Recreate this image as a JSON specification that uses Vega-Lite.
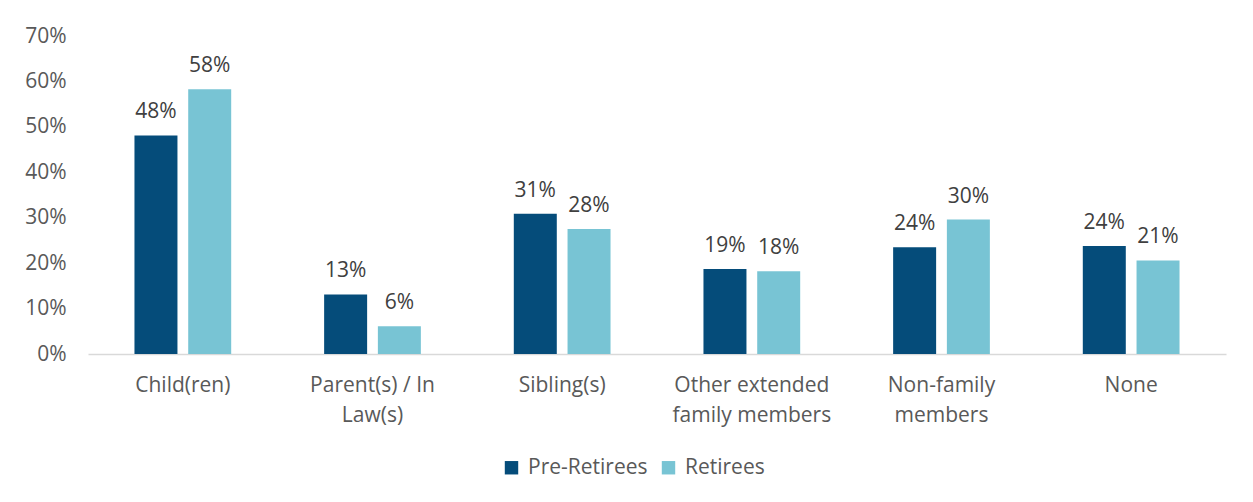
{
  "$schema": "https://vega.github.io/schema/vega-lite/v6.json",
  "width": 1138,
  "height": 318,
  "autosize": "none",
  "padding": {"left": 88, "top": 36, "right": 27, "bottom": 148},
  "background": "white",
  "config": {
    "view": {"stroke": null},
    "font": "Open Sans",
    "axis": {"labelFont": "Open Sans", "labelColor": "#595959", "labelFontSize": 21, "title": null},
    "legend": {"labelFont": "Open Sans", "labelColor": "#595959", "labelFontSize": 21}
  },
  "data": {
    "values": [
      {"category": "Child(ren)", "group": "Pre-Retirees", "value": 0.481},
      {"category": "Child(ren)", "group": "Retirees", "value": 0.583},
      {"category": "Parent(s) / In Law(s)", "group": "Pre-Retirees", "value": 0.131},
      {"category": "Parent(s) / In Law(s)", "group": "Retirees", "value": 0.061},
      {"category": "Sibling(s)", "group": "Pre-Retirees", "value": 0.309},
      {"category": "Sibling(s)", "group": "Retirees", "value": 0.275},
      {"category": "Other extended family members", "group": "Pre-Retirees", "value": 0.187},
      {"category": "Other extended family members", "group": "Retirees", "value": 0.182},
      {"category": "Non-family members", "group": "Pre-Retirees", "value": 0.235},
      {"category": "Non-family members", "group": "Retirees", "value": 0.296},
      {"category": "None", "group": "Pre-Retirees", "value": 0.238},
      {"category": "None", "group": "Retirees", "value": 0.206}
    ]
  },
  "encoding": {
    "x": {
      "field": "category",
      "type": "nominal",
      "sort": null,
      "scale": {"paddingInner": 0.49, "paddingOuter": 0.245},
      "axis": {
        "labelAngle": 0,
        "domainColor": "#d9d9d9",
        "domainWidth": 1.5,
        "ticks": false,
        "labelPadding": 20,
        "labelBaseline": "top",
        "labelLineHeight": 30,
        "labelExpr": "datum.value == 'Parent(s) / In Law(s)' ? ['Parent(s) / In', 'Law(s)'] : datum.value == 'Other extended family members' ? ['Other extended', 'family members'] : datum.value == 'Non-family members' ? ['Non-family', 'members'] : datum.value"
      }
    },
    "xOffset": {"field": "group", "type": "nominal", "scale": {"paddingInner": 0.2, "paddingOuter": 0}},
    "y": {
      "field": "value",
      "type": "quantitative",
      "scale": {"domain": [0, 0.7], "nice": false},
      "axis": {
        "format": ".0%",
        "values": [0, 0.1, 0.2, 0.3, 0.4, 0.5, 0.6, 0.7],
        "grid": false,
        "domain": false,
        "ticks": false,
        "labelPadding": 22
      }
    }
  },
  "layer": [
    {
      "mark": {"type": "bar"},
      "encoding": {
        "color": {
          "field": "group",
          "type": "nominal",
          "scale": {"domain": ["Pre-Retirees", "Retirees"], "range": ["#054C7A", "#78C4D4"]},
          "legend": {
            "title": null,
            "orient": "none",
            "direction": "horizontal",
            "legendX": 413,
            "legendY": 421,
            "symbolType": "square",
            "symbolSize": 180,
            "symbolStrokeWidth": 0,
            "columnPadding": 10,
            "labelOffset": 6
          }
        }
      }
    },
    {
      "mark": {"type": "text", "baseline": "alphabetic", "dy": -17, "fontSize": 21, "color": "#404040", "font": "Open Sans"},
      "encoding": {
        "text": {"field": "value", "type": "quantitative", "format": ".0%"}
      }
    }
  ]
}
